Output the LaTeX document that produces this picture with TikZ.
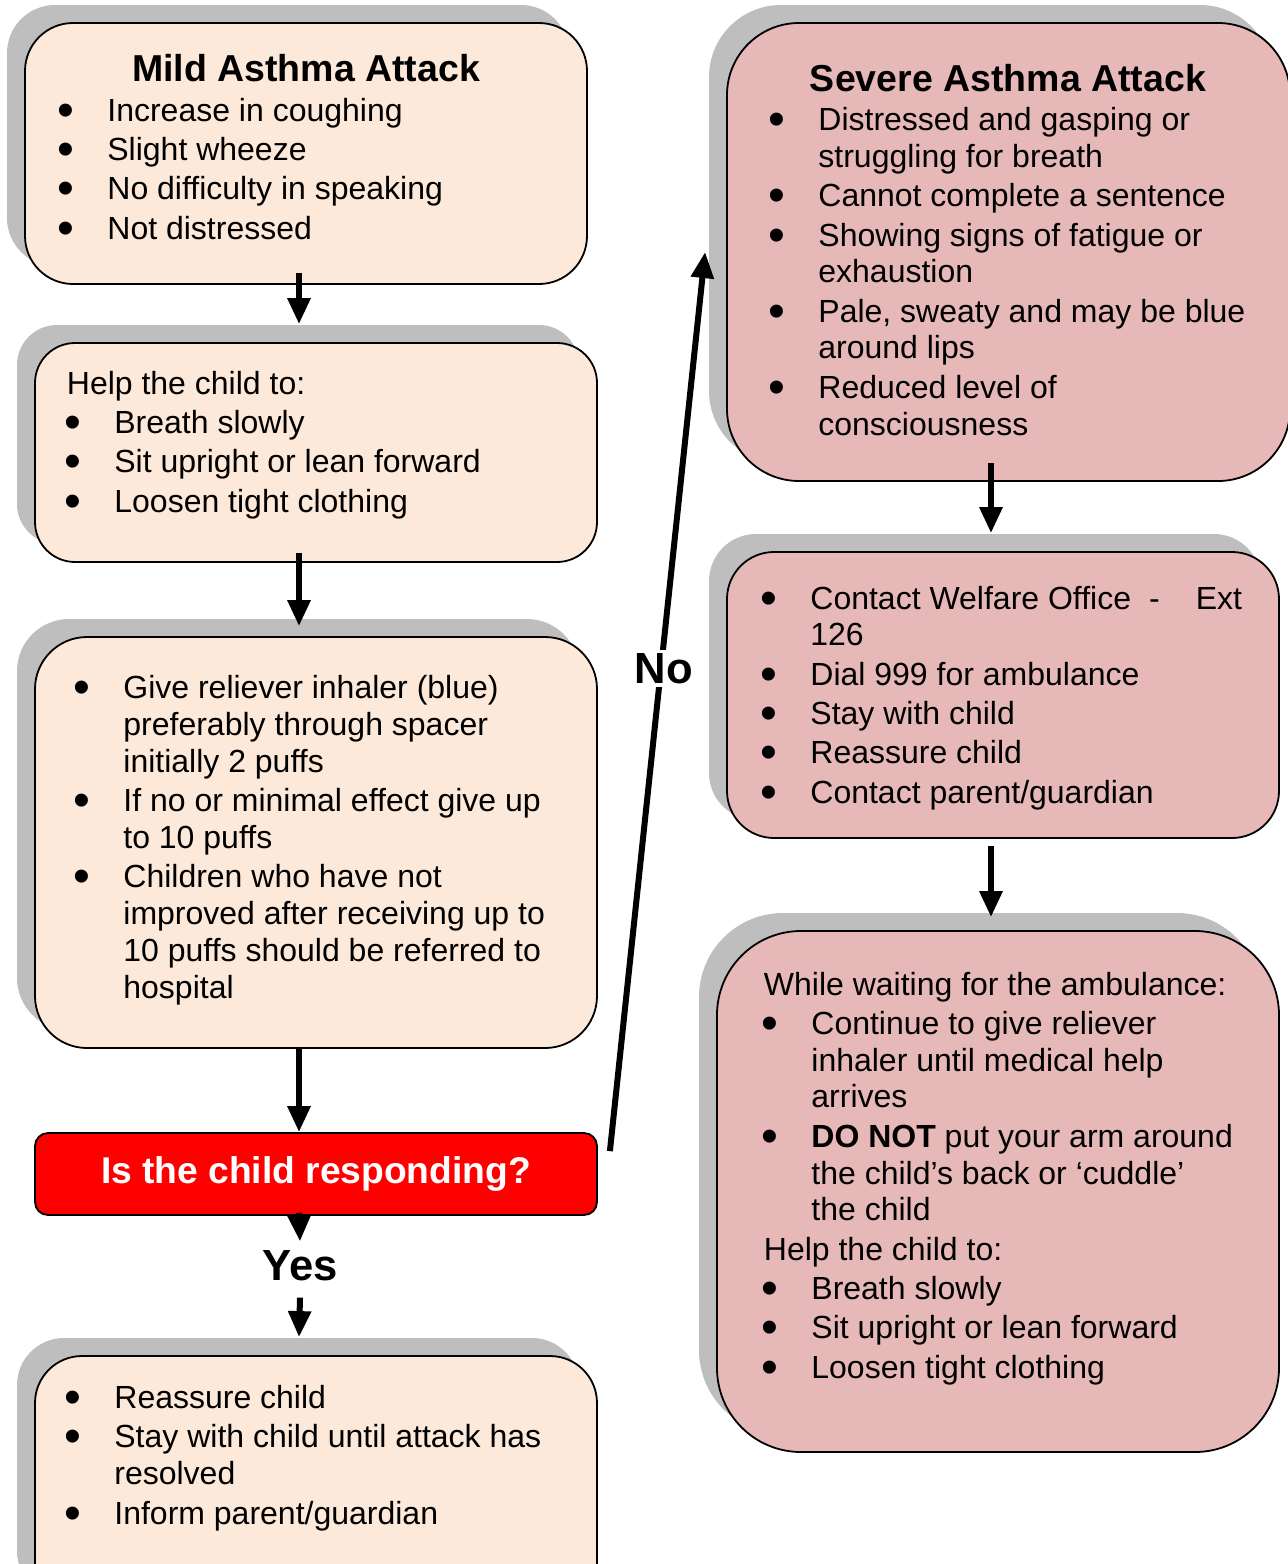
\documentclass[tikz,border=0pt]{standalone}
\usepackage{fontspec}
\setmainfont{Liberation Sans}
\usetikzlibrary{shadows,arrows.meta}
\definecolor{mildfill}{HTML}{FDE9D9}
\definecolor{severefill}{HTML}{E6B9B8}
\definecolor{shadowgrey}{HTML}{BEBEBE}
\newcommand{\bitem}{\makebox[23.75pt][l]{\hspace*{-1pt}\raisebox{-2.5pt}{\scalebox{1.5}{\textbullet}}}}
\newcommand{\bcont}{\hspace*{23.75pt}}
\begin{document}
\begin{tikzpicture}[x=0.5pt, y=-0.5pt]
    \tikzstyle{flow} = [line width=3pt, -{Triangle[width=11pt,length=13pt]}]
    \tikzstyle{card} = [draw = black, line width=0.9pt, drop shadow={shadow xshift=-9pt, shadow yshift=9pt, fill=shadowgrey, opacity=1}]
    \tikzstyle{mildbox} = [card, fill = mildfill, minimum width=281pt]
    \tikzstyle{severebox} = [card, fill = severefill]
    \tikzstyle{decidebox} = [draw = black, line width=0.9pt, fill = red, text = white, minimum width=281pt, minimum height=41pt, rounded corners=6.5pt, font=\fontsize{18.6}{21}\selectfont\bfseries]
    % lists are placed by the baseline of their last line
    \tikzstyle{listtext} = [anchor = base west, inner sep=0pt, align = left, font=\fontsize{16}{18.4}\selectfont]
    \tikzstyle{heading} = [anchor = base, inner sep=0pt, font=\fontsize{18.75}{21}\selectfont\bfseries]
    \tikzstyle{answer} = [inner sep=4.5pt, font=\fontsize{21.8}{25}\selectfont\bfseries]
    \useasboundingbox (0,0) rectangle (1287,1564);
    \coordinate (lcol) at (299,0);
    \coordinate (rcol) at (991,0);

    % left column
    \node[mildbox, minimum height=130.5pt, rounded corners=24pt](mild) at (306,153.5){};
    \node[mildbox, minimum height=109.5pt, rounded corners=20pt](help) at (316,452.5){};
    \node[mildbox, minimum height=205.5pt, rounded corners=26pt](give) at (316,842.5){};
    \node[decidebox](decide) at (316,1174){Is the child responding?};
    \node[answer](yes) at (300,1266){Yes};
    \node[mildbox, minimum height=130pt, rounded corners=23.5pt](calm) at (316,1486){};

    \node[heading](mildtitle) at (306,81){Mild Asthma Attack};
    \node[listtext](mildlist) at (59.5,239){\bitem Increase in coughing\\[1.25pt]
        \bitem Slight wheeze\\[1.25pt]
        \bitem No difficulty in speaking\\[1.25pt]
        \bitem Not distressed};
    \node[listtext](helplist) at (66.5,512){Help the child to:\\[1.25pt]
        \bitem Breath slowly\\[1.25pt]
        \bitem Sit upright or lean forward\\[1.25pt]
        \bitem Loosen tight clothing};
    \node[listtext](givelist) at (75.5,998){\bitem Give reliever inhaler (blue)\\
        \bcont preferably through spacer\\
        \bcont initially 2 puffs\\[1.25pt]
        \bitem If no or minimal effect give up\\
        \bcont to 10 puffs\\[1.25pt]
        \bitem Children who have not\\
        \bcont improved after receiving up to\\
        \bcont 10 puffs should be referred to\\
        \bcont hospital};
    \node[listtext](calmlist) at (66.5,1524){\bitem Reassure child\\[1.25pt]
        \bitem Stay with child until attack has\\
        \bcont resolved\\[1.25pt]
        \bitem Inform parent/guardian};

    % right column
    \node[severebox, minimum width=281.5pt, minimum height=229pt, rounded corners=36pt](severe) at (1008.5,252){};
    \node[severebox, minimum width=276pt, minimum height=143pt, rounded corners=23.5pt](contact) at (1003,695){};
    \node[severebox, minimum width=281pt, minimum height=260.5pt, rounded corners=42pt](waiting) at (998,1191.5){};

    \node[heading](severetitle) at (1008,91){Severe Asthma Attack};
    \node[listtext](severelist) at (770.5,435){\bitem Distressed and gasping or\\
        \bcont struggling for breath\\[1.25pt]
        \bitem Cannot complete a sentence\\[1.25pt]
        \bitem Showing signs of fatigue or\\
        \bcont exhaustion\\[1.25pt]
        \bitem Pale, sweaty and may be blue\\
        \bcont around lips\\[1.25pt]
        \bitem Reduced level of\\
        \bcont consciousness};
    \node[listtext](contactlist) at (762.5,803){\bitem Contact Welfare Office\hspace{9pt}-\hspace{18pt}Ext\\
        \bcont 126\\[1.25pt]
        \bitem Dial 999 for ambulance\\[1.25pt]
        \bitem Stay with child\\[1.25pt]
        \bitem Reassure child\\[1.25pt]
        \bitem Contact parent/guardian};
    \node[listtext](waitinglist) at (763.5,1378){While waiting for the ambulance:\\[1.25pt]
        \bitem Continue to give reliever\\
        \bcont inhaler until medical help\\
        \bcont arrives\\[1.25pt]
        \bitem \textbf{DO NOT} put your arm around\\
        \bcont the child’s back or ‘cuddle’\\
        \bcont the child\\[1.25pt]
        Help the child to:\\[1.25pt]
        \bitem Breath slowly\\[1.25pt]
        \bitem Sit upright or lean forward\\[1.25pt]
        \bitem Loosen tight clothing};

    \draw[flow] ([yshift=6pt]mild.south -| lcol)--([yshift=9pt]help.north -| lcol);
    \draw[flow] ([yshift=5pt]help.south -| lcol)--([yshift=5pt]give.north -| lcol);
    \draw[flow] (give.south -| lcol)--(decide.north -| lcol);
    \draw[flow] ([yshift=1.5pt]decide.south -| lcol)--(yes.north);
    \draw[flow] ([yshift=-3.5pt]yes.south)--([yshift=9pt]calm.north -| lcol);
    \draw[flow] ([shift={(12,19)}]decide.north east)--node[pos=0.537, answer, fill=white, inner sep=1.5pt, xshift=1.5pt]{No}([xshift=-10.5pt]severe.west);
    \draw[flow] ([yshift=9.5pt]severe.south -| rcol)--([yshift=9pt]contact.north -| rcol);
    \draw[flow] ([yshift=-3.5pt]contact.south -| rcol)--([yshift=6.5pt]waiting.north -| rcol);
\end{tikzpicture}
\end{document}
